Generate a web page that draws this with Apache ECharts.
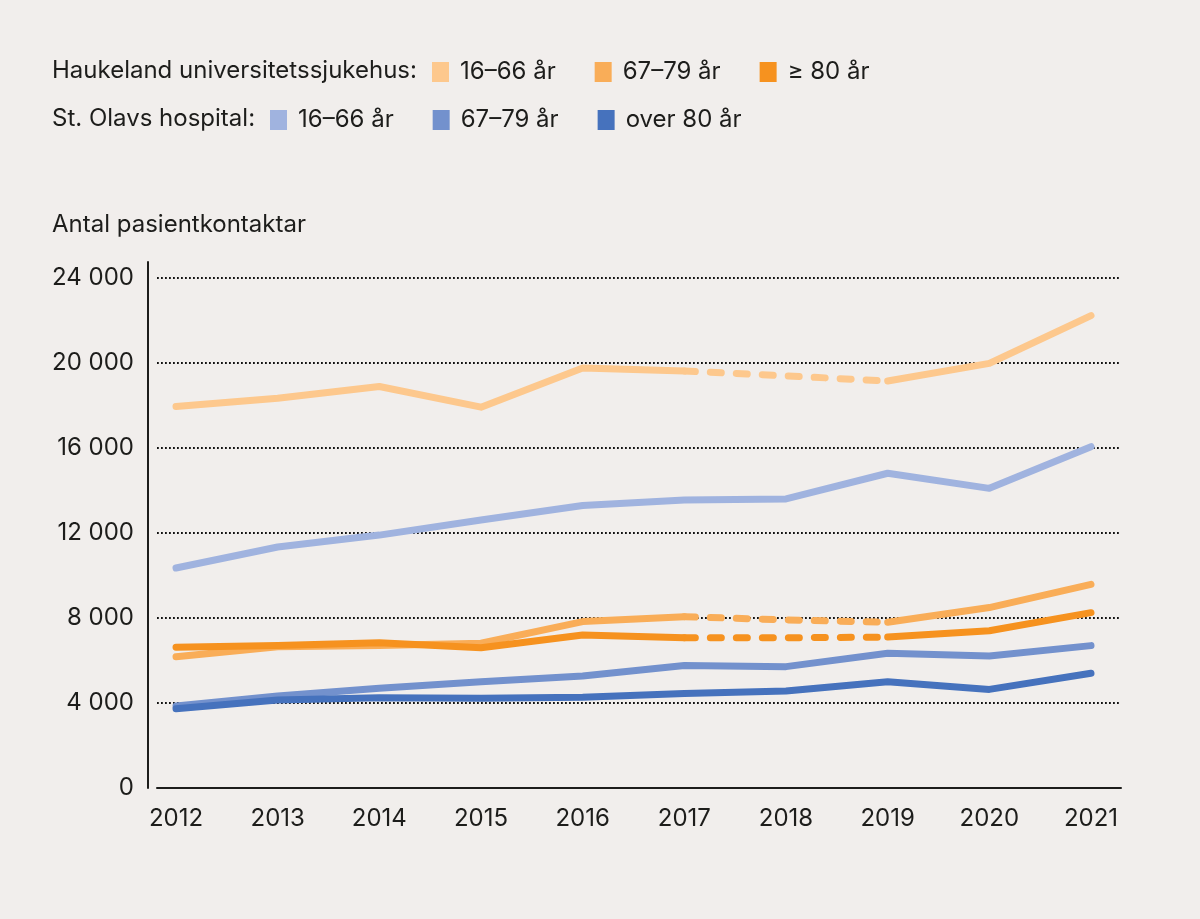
<!DOCTYPE html>
<html>
<head>
<meta charset="utf-8">
<script src="https://cdn.jsdelivr.net/npm/echarts@6/dist/echarts.min.js"></script>
<style>
html,body{margin:0;padding:0;background:#f1eeec;}
#chart{width:1200px;height:919px;}
</style>
</head>
<body>
<div id="chart"></div>
<script>
// ---- data ----
const years = [2012, 2013, 2014, 2015, 2016, 2017, 2018, 2019, 2020, 2021];
const yTicks = [0, 4000, 8000, 12000, 16000, 20000, 24000];
const estimatedYear = 2018; // Haukeland values drawn dashed 2017–2019

const haukeland_16_66 = [17950, 18340, 18890, 17920, 19760, 19620, 19390, 19150, 19980, 22230];
const haukeland_67_79 = [6180, 6650, 6700, 6810, 7830, 8060, 7910, 7800, 8490, 9580];
const haukeland_80 =    [6620, 6700, 6840, 6600, 7200, 7070, 7070, 7100, 7400, 8250];
const olav_16_66 =      [10350, 11340, 11900, 12610, 13290, 13550, 13600, 14810, 14100, 16060];
const olav_67_79 =      [3860, 4330, 4690, 5000, 5270, 5760, 5710, 6340, 6210, 6700];
const olav_80 =         [3730, 4140, 4250, 4220, 4270, 4450, 4560, 5000, 4640, 5400];

const groupHaukeland = 'Haukeland universitetssjukehus:';
const groupOlav = 'St. Olavs hospital:';
const legendHaukeland = ['16–66 år', '67–79 år', '≥ 80 år'];
const legendOlav = ['16–66 år', '67–79 år', 'over 80 år'];
const yTitle = 'Antal pasientkontaktar';

const colors = {
  h1: '#fdc88d', h2: '#f9ad58', h3: '#f6921f',
  o1: '#a0b3df', o2: '#7391cd', o3: '#4672bd'
};

// ---- build ----
const FONT = 'Inter';
const FS = 24;
const TXT = '#1d1d1b';

function solid(vals, dashed) {
  return years.map((y, i) => [y, (dashed && y === estimatedYear) ? '-' : vals[i]]);
}
function dashPart(vals) {
  const i = years.indexOf(estimatedYear);
  return [[years[i-1], vals[i-1]], [years[i], vals[i]], [years[i+1], vals[i+1]]];
}
function lineSeries(id, data, color, dashed) {
  return {
    name: id, type: 'line', data: data, showSymbol: false, symbol: 'none',
    silent: true, animation: false,
    lineStyle: { color: color, width: 7, cap: 'round', join: 'round',
                 type: dashed ? [11, 15] : 'solid' },
    itemStyle: { color: color },
    emphasis: { disabled: true }
  };
}

const names = {
  h1: 'H|' + legendHaukeland[0], h2: 'H|' + legendHaukeland[1], h3: 'H|' + legendHaukeland[2],
  o1: 'O|' + legendOlav[0], o2: 'O|' + legendOlav[1], o3: 'O|' + legendOlav[2]
};

const series = [
  lineSeries(names.o1, solid(olav_16_66, false), colors.o1, false),
  lineSeries(names.o2, solid(olav_67_79, false), colors.o2, false),
  lineSeries(names.o3, solid(olav_80, false), colors.o3, false),
  lineSeries(names.h1, solid(haukeland_16_66, true), colors.h1, false),
  lineSeries('h1-est', dashPart(haukeland_16_66), colors.h1, true),
  lineSeries(names.h2, solid(haukeland_67_79, true), colors.h2, false),
  lineSeries('h2-est', dashPart(haukeland_67_79), colors.h2, true),
  lineSeries(names.h3, solid(haukeland_80, true), colors.h3, false),
  lineSeries('h3-est', dashPart(haukeland_80), colors.h3, true)
];

const legendCommon = {
  orient: 'horizontal', icon: 'rect', itemWidth: 17, itemHeight: 20, itemGap: 39,
  padding: 0, selectedMode: false,
  formatter: n => n.split('|')[1],
  textStyle: { fontFamily: FONT, fontSize: FS, color: TXT, lineHeight: 20, padding: [0, 0, 0, 6] }
};

const chart = echarts.init(document.getElementById('chart'), null, { renderer: 'canvas' });
chart.setOption({
  backgroundColor: '#f1eeec',
  animation: false,
  textStyle: { fontFamily: FONT },
  graphic: [
    { type: 'text', x: 52, y: 71, style: { text: groupHaukeland, fill: TXT, font: FS + 'px ' + FONT, verticalAlign: 'middle' } },
    { type: 'text', x: 52, y: 119, style: { text: groupOlav, fill: TXT, font: FS + 'px ' + FONT, verticalAlign: 'middle' } },
    { type: 'text', x: 52, y: 225, style: { text: yTitle, fill: TXT, font: FS + 'px ' + FONT, verticalAlign: 'middle' } }
  ],
  legend: [
    Object.assign({}, legendCommon, { left: 432, top: 60, data: [names.h1, names.h2, names.h3] }),
    Object.assign({}, legendCommon, { left: 270, top: 108, data: [names.o1, names.o2, names.o3] })
  ],
  grid: { left: 157, right: 79, top: 262, bottom: 131, containLabel: false },
  xAxis: {
    type: 'value', min: 2011.813, max: 2021.295,
    axisLine: { show: true, lineStyle: { color: TXT, width: 2 } },
    axisTick: { show: false },
    splitLine: { show: false },
    axisLabel: {
      customValues: years, margin: 19,
      formatter: v => String(v),
      fontFamily: FONT, fontSize: FS, color: TXT
    }
  },
  yAxis: {
    type: 'value', min: 0, max: 24750, interval: 4000, offset: 9,
    axisLine: { show: true, lineStyle: { color: TXT, width: 2 } },
    axisTick: { show: false },
    splitLine: { show: true, showMinLine: false, showMaxLine: false,
                 lineStyle: { color: '#111', width: 1.8, type: [1.8, 2.2] } },
    axisLabel: {
      margin: 14, fontFamily: FONT, fontSize: FS, color: TXT,
      showMaxLabel: false,
      formatter: v => yTicks.includes(v) ? String(v).replace(/\B(?=(\d{3})+(?!\d))/g, ' ') : ''
    }
  },
  series: series
});
</script>
</body>
</html>
